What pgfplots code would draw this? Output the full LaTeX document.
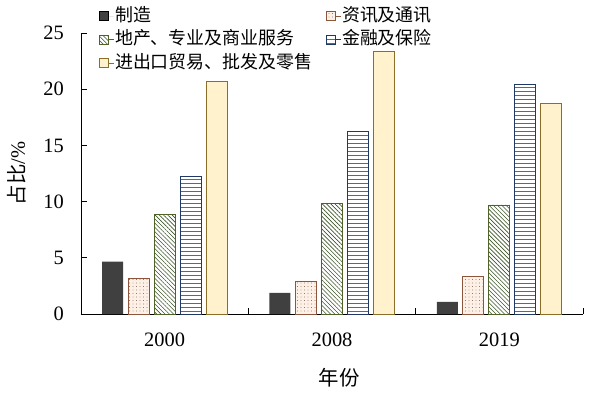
\documentclass[border=0pt]{standalone}
\usepackage{pgfplots}
\pgfplotsset{compat=1.18}
\usepackage{fontspec}
\setmainfont{Liberation Serif}
\newfontfamily\cjk{Noto Sans CJK SC}
\usetikzlibrary{patterns.meta}
\definecolor{manu}{RGB}{64,64,64}
\definecolor{infofill}{RGB}{253,240,230}
\definecolor{infodot}{RGB}{100,55,35}
\definecolor{infoborder}{RGB}{140,85,60}
\definecolor{reborder}{RGB}{79,98,40}
\definecolor{reline}{RGB}{60,85,40}
\definecolor{finborder}{RGB}{31,56,100}
\definecolor{finline}{RGB}{46,117,182}
\definecolor{tradefill}{RGB}{255,242,204}
\definecolor{tradeborder}{RGB}{140,110,40}
\begin{document}
\begin{tikzpicture}
\pgfplotsset{mylegend/.style={legend image code/.code={\path (0bp,0bp) -- (14bp,0bp);\draw[##1, line width=0.5bp] (0bp,-4.5bp) rectangle (9bp,4.5bp);}}}
\begin{axis}[
 scale only axis, width=502bp, height=281bp,
 xmin=-0.5, xmax=2.5, ymin=0, ymax=25,
 axis x line=bottom, axis y line=left,
 axis line style={-, line width=0.8bp, black},
 tick align=inside, major tick length=6bp,
 every tick/.style={black, line width=0.8bp},
 xtick={0.5,1.5,2.5}, xticklabels={},
 extra x ticks={0,1,2}, extra x tick labels={2000,2008,2019},
 extra x tick style={major tick length=0pt},
 ytick={0,5,10,15,20,25},
 /pgf/number format/assume math mode=true,
 tick label style={font=\fontsize{20.5}{22}\selectfont},
 xticklabel style={anchor=center, yshift=-26bp},
 yticklabel style={anchor=east, inner sep=0pt, xshift=-17bp},
 ylabel={{\cjk 占比}/\%},
 xlabel={\cjk 年份},
 every axis y label/.style={at={(rel axis cs:0,0.5)}, xshift=-64bp, rotate=90, anchor=center, font=\fontsize{20.5}{22}\selectfont},
 every axis x label/.style={at={(rel axis cs:0.514,0)}, yshift=-64bp, anchor=center, font=\fontsize{20.5}{22}\selectfont},
 legend columns=2, legend cell align=left,
 legend style={at={(rel axis cs:0.036,1.096)}, anchor=north west, draw=none, fill=none,
   inner sep=0pt, font=\cjk\fontsize{18}{20}\selectfont,
   nodes={text height=14bp, text depth=4bp, inner sep=1bp},
   row sep=3.5bp,
   /tikz/every even column/.append style={column sep=13bp}},
]
\coordinate (O) at (rel axis cs:0,0);
\addplot[ybar, bar width=21bp, bar shift=-52bp, fill=manu, draw=none, mylegend]
 coordinates {(0,4.65) (1,1.87) (2,1.07)};
\addlegendentry{制造}
\addplot[ybar, bar width=21bp, bar shift=-26bp, fill=infofill, draw=infoborder, line width=0.8bp,
 postaction={pattern={Dots[distance=3.5bp, radius=0.4bp]}, pattern color=infodot}, mylegend]
 coordinates {(0,3.17) (1,2.94) (2,3.38)};
\addlegendentry{资讯及通讯}
\addplot[ybar, bar width=21bp, bar shift=0bp, fill=white, draw=reborder, line width=0.8bp,
 postaction={pattern={Lines[angle=-45, distance=3bp, line width=0.6bp]}, pattern color=reline}, mylegend]
 coordinates {(0,8.87) (1,9.8) (2,9.7)};
\addlegendentry{地产、专业及商业服务}
\addplot[ybar, bar width=21bp, bar shift=26bp, fill=white, draw=finborder, line width=0.8bp,
 postaction={pattern={Lines[angle=0, distance=4bp, line width=0.8bp]}, pattern color=finline}, mylegend]
 coordinates {(0,12.25) (1,16.25) (2,20.45)};
\addlegendentry{金融及保险}
\addplot[ybar, bar width=21bp, bar shift=52bp, fill=tradefill, draw=tradeborder, line width=0.8bp, mylegend]
 coordinates {(0,20.7) (1,23.4) (2,18.77)};
\addlegendentry{进出口贸易、批发及零售}
\end{axis}
\pgfresetboundingbox
\useasboundingbox ([shift={(-81bp,-81bp)}]O) rectangle ([shift={(511bp,314bp)}]O);
\end{tikzpicture}
\end{document}
